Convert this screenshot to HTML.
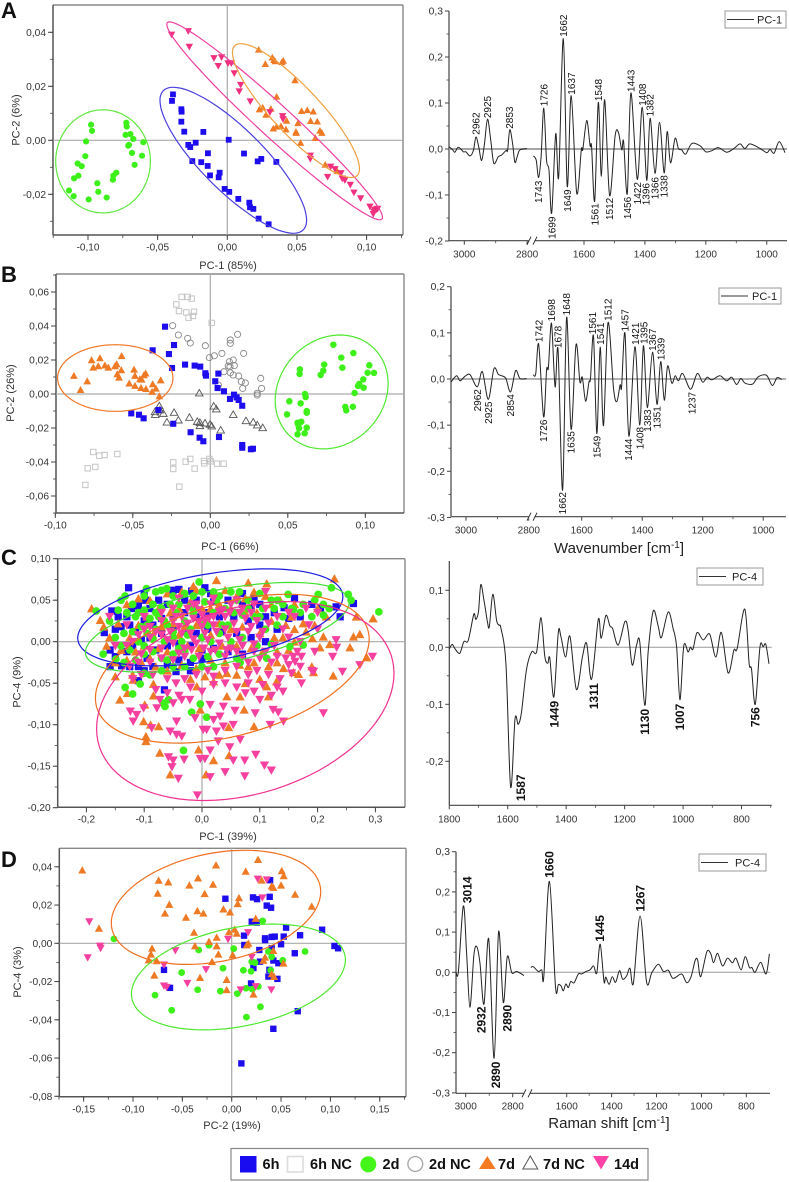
<!DOCTYPE html>
<html lang="en">
<head>
<meta charset="utf-8">
<title>PCA scores and loadings</title>
<style>
html,body{margin:0;padding:0;background:#fff;}
#fig{display:block;width:789px;height:1182px;font-family:"Liberation Sans",sans-serif;}
text{font-family:"Liberation Sans",sans-serif;}
</style>
</head>
<body>
<svg id="fig" xmlns="http://www.w3.org/2000/svg" width="789" height="1182" viewBox="0 0 789 1182">
  <rect x="0" y="0" width="789" height="1182" fill="#fff"/>
  <g id="layer"></g>

  <g font-weight="bold" font-size="22" fill="#111">
    <text x="1" y="18">A</text>
    <text x="1" y="282">B</text>
    <text x="1" y="565">C</text>
    <text x="1" y="867">D</text>
  </g>
  <g font-size="11" fill="#333" text-anchor="middle">
    <text x="228" y="269">PC-1 (85%)</text>
    <text x="230" y="550">PC-1 (66%)</text>
    <text x="228" y="840">PC-1 (39%)</text>
    <text x="232" y="1129">PC-2 (19%)</text>
    <text transform="translate(19.5 120) rotate(-90)">PC-2 (6%)</text>
    <text transform="translate(14 393) rotate(-90)">PC-2 (26%)</text>
    <text transform="translate(20.5 682) rotate(-90)">PC-4 (9%)</text>
    <text transform="translate(21 972) rotate(-90)">PC-4 (3%)</text>
  </g>
  <text x="619" y="553" font-size="15" fill="#222" text-anchor="middle">Wavenumber [cm<tspan font-size="10" dy="-5">-1</tspan><tspan dy="5">]</tspan></text>
  <text x="609" y="1128" font-size="15" fill="#222" text-anchor="middle">Raman shift [cm<tspan font-size="10" dy="-5">-1</tspan><tspan dy="5">]</tspan></text>

  <g>
    <rect x="231" y="1148.5" width="417" height="31.5" fill="#fff" stroke="#888" stroke-width="1.2"/>
    <rect x="240" y="1156" width="16.5" height="16.5" fill="#1a0cf0"/>
    <text x="262.5" y="1169" font-size="14.5" font-weight="bold" fill="#111">6h</text>
    <rect x="287.5" y="1156.5" width="15.5" height="15.5" fill="#fff" stroke="#ddd" stroke-width="1.6"/>
    <text x="310" y="1169" font-size="14.5" font-weight="bold" fill="#111">6h NC</text>
    <circle cx="368.3" cy="1164.3" r="8" fill="#44f51a"/>
    <text x="382.5" y="1169" font-size="14.5" font-weight="bold" fill="#111">2d</text>
    <circle cx="415.3" cy="1164" r="7.4" fill="#fff" stroke="#aaa" stroke-width="1.4"/>
    <text x="429" y="1169" font-size="14.5" font-weight="bold" fill="#111">2d NC</text>
    <path d="M479 1169L487.3 1156L495.6 1169Z" fill="#f57a22"/>
    <text x="498" y="1169" font-size="14.5" font-weight="bold" fill="#111">7d</text>
    <path d="M522.8 1169L530.3 1156L537.8 1169Z" fill="#fff" stroke="#555" stroke-width="1"/>
    <text x="543" y="1169" font-size="14.5" font-weight="bold" fill="#111">7d NC</text>
    <path d="M593 1156L609 1156L601 1169.5Z" fill="#ff42a8"/>
    <text x="614" y="1169" font-size="14.5" font-weight="bold" fill="#111">14d</text>
  </g>
</svg>

<script>
/* ---------- PANEL A scores (PC-1, PC-2) ---------- */
const aXTicks=[-0.10,-0.05,0,0.05,0.10];
const aYTicks=[-0.02,0,0.02,0.04];
const aGreen=[[-.0978,.0058],[-.0971,.0035],[-.1014,-.0004],[-.1019,-.0059],[-.1074,-.0086],[-.1045,-.0096],[-.1069,-.0131],[-.11,-.0141],[-.1136,-.0186],[-.1103,-.0207],[-.0995,-.0219],[-.0926,-.0191],[-.0933,-.0159],[-.0866,-.0212],[-.0821,-.0146],[-.0818,-.0131],[-.0797,-.012],[-.0725,.0065],[-.0722,.0051],[-.073,.002],[-.0696,.0023],[-.0675,.0005],[-.0706,-.0017],[-.0711,-.002],[-.0603,-.0007],[-.0684,-.0047],[-.0612,-.0057],[-.0665,-.0091]];
const aBlue=[[-.039,.017],[-.0397,.0146],[-.033,.0115],[-.0328,.0106],[-.033,.0069],[-.0309,.0032],[-.0172,.0031],[-.0227,-.0009],[-.028,-.0017],[-.0266,-.0025],[.001,.0002],[.012,-.0049],[-.0139,-.0048],[-.0251,-.0077],[-.0187,-.0081],[-.0141,-.0095],[-.0124,-.013],[-.0055,-.012],[-.0062,-.0137],[.0244,-.0069],[.0218,-.0078],[.0352,-.008],[-.0019,-.018],[.0014,-.0191],[.0079,-.0217],[.0158,-.0231],[.0163,-.0248],[.0187,-.0254],[.0225,-.029],[.0297,-.0311]];
const aOrange=[[.0225,.0336],[.0273,.0283],[.0323,.0307],[.0335,.0298],[.0344,.0293],[.0392,.029],[.0402,.0295],[.0486,.0223],[.0354,.0162],[.023,.0115],[.0254,.0122],[.0278,.0095],[.0313,.0117],[.0533,.0109],[.0574,.0112],[.0617,.0107],[.0426,.0073],[.0598,.0072],[.0646,.007],[.0385,.0053],[.0354,.0051],[.033,.0044],[.0421,.0041],[.0507,.0064],[.0493,.0032],[.0495,.0028],[.0526,-.0009],[.0632,.0009],[.0665,.0036],[.0679,.0028],[.0703,-.009],[.0789,-.0114]];
const aMagenta=[[-.04,.0391],[-.028,.0404],[-.0273,.0346],[-.0096,.0304],[-.0041,.0307],[-.0065,.0275],[.0005,.0285],[.0029,.0285],[.005,.0248],[.0096,.0205],[.0086,.0181],[.0165,.0144],[.0306,.0104],[.0397,.0089],[.04,.0078],[.0596,-.0057],[.0596,-.0069],[.072,-.0136],[.0742,-.0098],[.0773,-.0107],[.0816,-.0122],[.0825,-.0142],[.0844,-.0148],[.0883,-.0165],[.0909,-.0194],[.0957,-.0215],[.1024,-.0246],[.1072,-.0256],[.106,-.0258],[.1048,-.0273],[.1053,-.0264],[.1079,-.0254]];

/* ---------- PANEL B scores (PC-1, PC-2) ---------- */
const bXTicks=[-0.10,-0.05,0,0.05,0.10];
const bYTicks=[-0.06,-0.04,-0.02,0,0.02,0.04,0.06];
const bSquareNC=[[-.0185,.0571],[-.0146,.0571],[-.012,.0561],[-.0219,.0527],[-.0202,.0488],[-.0155,.048],[-.0105,.0484],[-.014,.0449],[-.0112,.0459],[.0009,.0418],[-.0755,-.0341],[-.0716,-.0363],[-.0682,-.0359],[-.06,-.0353],[-.0791,-.0437],[-.0742,-.0429],[-.0806,-.0535],[-.0239,-.0402],[-.0239,-.0441],[-.0159,-.0398],[-.0129,-.0382],[-.0101,-.0439],[-.0041,-.0394],[-.0039,-.0408],[-.0006,-.0382],[.0002,-.0396],[.0043,-.041],[.0086,-.041],[-.02,-.0545]];
const bCircleNC=[[-.0243,.0402],[-.0206,.0347],[-.0146,.0327],[-.0129,.03],[-.0032,.0284],[-.0006,.0214],[.0026,.0225],[.0075,.0239],[.0129,.0318],[.0129,.0298],[.0176,.0351],[.0215,.0239],[.0123,.019],[.0148,.02],[.0127,.0161],[.0155,.0167],[.0116,.0165],[.0088,.0131],[.0129,.0125],[.0148,.0112],[.0183,.0106],[.02,.0073],[.0226,.0065],[.0209,.0033],[.0325,.0092],[.0331,.0033],[.0303,.0004],[.0303,-.0006],[.0052,.0053]];
const bTriangleNC=[[-.0071,.0006],[.0022,-.0071],[.0039,-.0088],[.0148,-.012],[-.0329,-.0069],[-.0357,-.0104],[-.0355,-.012],[-.0325,-.0094],[-.0303,-.0114],[-.0234,-.0108],[-.028,-.0165],[-.0206,-.0153],[-.0135,-.0137],[-.0084,-.0161],[-.0067,-.0167],[-.0067,-.0186],[-.0034,-.0171],[-.0002,-.0178],[.0009,-.0188],[.0067,-.0212],[.023,-.0157],[.0277,-.0165],[.0303,-.0182],[.0338,-.0198]];
const bBlue=[[-.0292,.0396],[-.0234,.0288],[-.0267,.0235],[-.0372,.0257],[-.0247,.0153],[-.0163,.0173],[-.0101,.0167],[-.0065,.0161],[-.0032,.0122],[-.0028,.0108],[.0052,.012],[.0032,.0075],[.0047,.0035],[.0088,.0016],[.0153,-.0004],[.0127,-.0029],[.017,-.002],[.0183,-.0035],[.0206,-.0069],[-.051,-.0114],[-.046,-.0122],[-.043,-.0143],[-.0335,-.0094],[-.0239,-.0175],[-.0127,-.0225],[-.0069,-.0257],[-.0045,-.0278],[.0056,-.0253],[.0206,-.03],[.0206,-.0316],[.0262,-.0325],[.0275,-.0322]];
const bOrange=[[-.088,.0108],[-.0794,.0076],[-.0837,.0025],[-.0766,.02],[-.0712,.0212],[-.0755,.0157],[-.0723,.0165],[-.068,.0169],[-.0658,.0157],[-.0615,.0165],[-.0604,.0176],[-.0572,.0224],[-.06,.0118],[-.0574,.0141],[-.0589,.0098],[-.0492,.0145],[-.0486,.0108],[-.0417,.0122],[-.0428,.0112],[-.0443,.0086],[-.0454,.0088],[-.0523,.0063],[-.0486,.0049],[-.0447,.0037],[-.0415,.0031],[-.0372,.0059],[-.0351,.0033],[-.032,.0082],[-.0376,.0014],[-.0329,-.0012]];
const bGreen=[[.0794,.029],[.0923,.0241],[.0845,.0214],[.0852,.0155],[.0735,.0173],[.0729,.0137],[.0712,.0112],[.0578,.0145],[.0576,.0118],[.1026,.0169],[.1015,.0125],[.1056,.0124],[.0987,.0086],[.0961,.0059],[.0953,.0047],[.0989,.0037],[.0931,.0006],[.0611,0],[.0615,-.0018],[.051,-.0043],[.0583,-.0055],[.0622,-.01],[.0622,-.011],[.0495,-.012],[.0871,-.0076],[.0877,-.0096],[.092,-.0075],[.0587,-.0163],[.0563,-.0169],[.0568,-.0182],[.0572,-.0202],[.0622,-.0198],[.0563,-.0237],[.0609,-.0231]];

/* ---------- PANEL C scores (PC-1, PC-4) ---------- */
const cXTicks=[-0.2,-0.1,0,0.1,0.2,0.3];
const cYTicks=[-0.20,-0.15,-0.10,-0.05,0,0.05,0.10];
const cBlue=[[-.127,.065],[.005,.065],[-.018,.061],[.262,.046],[.232,.042],[.239,.03],[.142,.041],[-.159,-.03],[-.156,.037],[-.169,.011],[-.159,-.01],[-.065,-.058],[-.11,-.047],[-.139,-.029],[-.1,.058],[-.098,.05],[-.05,.062],[-.04,.063],[.015,.058],[.07,.058],[.09,.052],[.1,.045],[.16,.052],[.19,.045],[.205,.04],[.15,.028],[.17,.03],[.125,.035],[-.145,.03],[-.13,.03],[-.122,.04],[-.11,.043],[-.09,.04],[-.075,.05],[-.06,.045],[-.03,.05],[-.01,.05],[.02,.048],[.045,.05],[.07,.045],[.085,.04],[.11,.03],[-.15,.015],[-.14,.018],[-.125,.02],[-.115,.012],[-.1,.025],[-.085,.02],[-.07,.028],[-.05,.03],[-.03,.035],[-.01,.03],[.01,.035],[.03,.03],[.055,.03],[.08,.025],[.1,.02],[.13,.015],[-.15,-.018],[-.13,-.012],[-.12,-.005],[-.105,.002],[-.09,.005],[-.07,.01],[-.05,.015],[-.03,.012],[-.01,.01],[.01,.015],[.035,.012],[.06,.01],[.085,.005],[.11,0],[-.125,-.03],[-.11,-.03],[-.095,-.02],[-.08,-.01],[-.06,-.005],[-.04,-.002],[-.02,-.005],[0,-.01],[.02,-.008],[.045,-.012],[.07,-.015],[-.1,-.035],[-.085,-.03],[-.06,-.028],[-.04,-.022],[-.02,-.025],[0,-.02],[-.02,-.035],[-.045,-.036]];
const cOrange=[[.229,.076],[.112,.07],[.08,.071],[.025,.074],[-.015,.067],[-.191,.04],[-.176,.026],[.296,.028],[.267,.03],[.273,.009],[.262,.006],[.256,-.007],[.227,-.041],[.285,-.019],[.21,.006],[.221,-.003],[.204,-.007],[.191,.004],[.19,-.03],[.193,-.037],[.167,-.039],[.158,-.037],[.141,-.032],[-.142,-.07],[-.15,-.042],[-.129,-.062],[-.099,-.076],[-.084,-.051],[-.119,-.046],[-.084,-.065],[-.101,-.096],[-.089,-.1],[-.075,-.102],[-.097,-.114],[-.097,-.12],[-.073,-.134],[-.055,-.16],[-.006,-.13],[.007,-.16],[.02,-.143],[.047,-.137],[.09,-.102],[.046,-.103],[.073,-.082],[-.003,-.082],[.043,-.066],[-.009,-.054],[.066,-.066],[.115,-.066],[.112,-.054],[.129,-.048],[.08,-.03],[.06,-.04],[.043,-.038],[.02,-.048],[-.17,.018],[-.16,.005],[-.165,-.005],[-.145,.022],[-.13,.045],[-.11,.052],[-.09,.05],[-.06,.058],[-.035,.06],[-.01,.062],[.02,.058],[.04,.062],[.06,.055],[.09,.06],[.11,.055],[.135,.05],[.16,.045],[.2,.04],[.215,.03],[-.15,-.025],[-.14,-.01],[-.125,.005],[-.11,.02],[-.095,.03],[-.075,.04],[-.055,.035],[-.04,.04],[-.02,.048],[0,.04],[.015,.04],[.03,.045],[.05,.04],[.075,.035],[.095,.035],[.12,.025],[.145,.02],[.16,.015],[.18,.012],[-.13,-.022],[-.115,-.012],[-.1,-.005],[-.085,.008],[-.07,.018],[-.05,.022],[-.03,.018],[-.01,.02],[.01,.025],[.03,.022],[.05,.015],[.07,.018],[.1,.01],[.125,.005],[.14,.005],[.16,0],[-.12,-.04],[-.105,-.025],[-.09,-.02],[-.075,-.008],[-.06,-.012],[-.04,.008],[-.025,-.005],[-.005,-.008],[.015,.008],[.035,-.005],[.06,-.005],[.085,-.008],[.105,-.012],[.13,-.012],[.15,-.01],[-.08,-.03],[-.06,-.035],[-.035,-.028],[-.01,-.032],[.015,-.022],[.04,-.025],[.065,-.028],[.09,-.025],[.115,-.03],[.13,-.025],[-.02,-.045],[.005,-.042],[.03,-.04],[.1,-.045],[.075,-.05],[.155,.03],[.175,.022],[.195,.02],[.12,.045],[.075,.052]];
const cGreen=[[.306,.036],[.253,.057],[.258,.05],[.224,.065],[.201,.057],[.149,.057],[.158,.039],[.175,-.004],[.152,-.006],[.112,-.02],[.066,-.025],[-.133,-.055],[-.12,-.063],[-.107,-.051],[-.09,-.04],[-.067,-.074],[-.058,-.07],[-.064,-.078],[-.003,-.075],[-.018,-.085],[.008,-.091],[-.032,-.131],[-.171,-.015],[-.183,.037],[-.149,-.021],[-.005,.072],[-.061,.064],[-.096,.064],[-.133,.055],[-.14,.05],[-.12,.045],[-.1,.055],[-.08,.06],[-.07,.062],[-.05,.055],[-.03,.058],[-.015,.055],[0,.06],[.02,.06],[.05,.06],[.065,.06],[.1,.058],[.12,.05],[.17,.035],[.19,.03],[.21,.032],[.22,.04],[.14,.045],[-.16,.025],[-.145,.038],[-.13,.035],[-.115,.03],[-.1,.038],[-.085,.045],[-.07,.04],[-.055,.045],[-.04,.045],[-.02,.042],[.005,.048],[.025,.05],[.04,.04],[.06,.05],[.08,.05],[.105,.04],[.125,.04],[.14,.03],[-.15,.005],[-.135,.01],[-.12,.012],[-.105,.018],[-.09,.028],[-.075,.03],[-.06,.02],[-.045,.035],[-.03,.025],[-.015,.035],[0,.025],[.02,.035],[.045,.02],[.07,.032],[.09,.03],[.11,.015],[.13,.02],[-.14,-.005],[-.125,-.01],[-.11,0],[-.095,.01],[-.08,.015],[-.065,0],[-.05,.005],[-.035,0],[-.02,.015],[0,.005],[.015,0],[.03,.01],[.05,0],[.07,.005],[.095,-.005],[.12,-.003],[-.135,-.025],[-.115,-.022],[-.1,-.015],[-.085,-.012],[-.07,-.02],[-.05,-.015],[-.03,-.012],[-.015,-.02],[.01,-.018],[.03,-.015],[.06,-.02],[-.1,-.038],[-.07,-.035],[-.05,-.03],[-.03,-.03],[0,-.03],[.02,-.03],[-.11,.035],[-.095,.02],[-.08,.035],[-.065,.025],[-.05,.012],[-.085,.003],[-.1,-.005],[-.06,-.022],[-.04,-.008],[-.025,.008],[-.01,.04],[.01,.02],[.03,.055],[.035,.02],[.055,.035],[.08,.04],[.1,.03],[.155,.04],[.175,.045],[.195,.05],[.21,.045],[.13,.05]];
const cMagenta=[[-.008,-.185],[-.041,-.165],[.014,-.163],[.074,-.162],[.12,-.155],[.108,-.149],[.04,-.157],[.093,-.136],[.074,-.143],[.054,-.143],[-.052,-.151],[-.05,-.143],[-.058,-.139],[-.031,-.142],[-.003,-.141],[.005,-.141],[.014,-.131],[.048,-.127],[.028,-.12],[.066,-.118],[-.035,-.114],[-.044,-.112],[-.055,-.108],[.002,-.106],[.008,-.106],[.025,-.108],[.037,-.102],[.054,-.1],[.118,-.1],[.141,-.096],[.21,-.086],[.132,-.085],[.123,-.082],[.092,-.086],[.057,-.083],[.037,-.078],[.014,-.076],[.031,-.09],[.02,-.094],[-.012,-.092],[-.044,-.096],[-.119,-.096],[-.113,-.088],[-.124,-.084],[-.101,-.08],[-.078,-.08],[-.087,-.104],[-.073,-.07],[-.05,-.074],[-.035,-.07],[-.021,-.07],[.295,-.018],[.273,-.028],[.243,-.036],[.232,.002],[.233,-.007],[.226,-.018],[.195,-.012],[.172,-.018],[.158,-.018],[.161,-.024],[.172,-.05],[.193,-.036],[.11,.06],[.06,.05],[.02,.052],[-.01,.045],[-.04,.052],[-.07,.035],[-.1,.03],[-.13,.02],[-.16,.03],[-.15,-.005],[-.05,.04],[-.025,.04],[-.005,.038],[.015,.045],[.035,.038],[.05,.045],[.07,.04],[.09,.045],[.11,.04],[.13,.03],[.15,.035],[.18,.04],[.2,.035],[-.09,.018],[-.07,.025],[-.05,.025],[-.035,.03],[-.015,.028],[0,.032],[.02,.03],[.04,.03],[.055,.022],[.075,.028],[.095,.025],[.115,.022],[.14,.015],[.17,0],[-.11,.008],[-.09,.005],[-.07,.008],[-.055,.012],[-.04,.018],[-.02,.01],[0,.018],[.02,.02],[.04,.015],[.06,.012],[.08,.012],[.1,.005],[.125,-.005],[-.13,-.005],[-.105,-.015],[-.09,-.01],[-.07,-.008],[-.05,-.002],[-.03,-.008],[-.01,-.002],[.01,.002],[.03,-.002],[.05,-.008],[.07,-.005],[.09,-.003],[.11,-.012],[.13,-.018],[.145,-.02],[-.125,-.03],[-.11,-.025],[-.09,-.025],[-.07,-.02],[-.05,-.022],[-.03,-.018],[-.005,-.018],[.015,-.012],[.04,-.018],[.06,-.012],[.08,-.025],[.1,-.02],[.12,-.025],[.15,-.028],[.17,-.03],[-.12,-.045],[-.105,-.04],[-.085,-.04],[-.06,-.045],[-.045,-.05],[-.03,-.045],[-.01,-.04],[.01,-.035],[.02,-.042],[.04,-.035],[.06,-.03],[.08,-.04],[.095,-.035],[.115,-.04],[.135,-.045],[.155,-.038],[.19,-.035],[-.08,-.058],[-.06,-.062],[-.04,-.065],[-.02,-.055],[0,-.06],[.02,-.052],[.04,-.05],[.06,-.055],[.08,-.05],[.09,-.06],[.105,-.052],[.13,-.055],[.12,-.065],[.14,-.06],[.1,-.07],[.075,-.062],[-.035,.01],[-.015,.003],[.005,.01],[.025,.012],[.045,.005],[.065,.002],[.085,.018],[-.045,.03],[-.025,.022],[-.005,.024],[.012,.028],[.03,.036],[.048,.035],[.065,.035],[.085,.035],[.105,.012],[-.06,.002],[-.04,-.014],[-.018,-.01],[.003,-.008],[.023,-.01],[.043,-.01],[.07,-.018],[.09,-.012],[-.1,.015],[-.08,.012],[-.12,.0],[-.015,.045],[.005,.025],[.16,.03],[.165,-.012],[.185,.02],[.2,.015],[.15,.005]];

/* ---------- PANEL D scores (PC-2, PC-4) ---------- */
const dXTicks=[-0.15,-0.10,-0.05,0,0.05,0.10,0.15];
const dYTicks=[-0.08,-0.06,-0.04,-0.02,0,0.02,0.04];
const dBlue=[[-.0064,.0233],[.0216,.024],[.0257,.0231],[.0385,.0243],[.0355,.0197],[.0399,.0186],[.0389,.033],[.0203,.0113],[.0253,.0108],[.0551,.0082],[.0125,.004],[.0338,.0026],[.0338,.0017],[.0405,.0033],[.0436,.0035],[.0527,.0035],[.0693,.0042],[.0916,.0071],[.05,-.0005],[.0639,-.0052],[.1041,-.0014],[.1078,-.0026],[.028,-.0035],[.0405,-.0026],[.0128,-.0009],[.0287,-.0096],[.0422,-.009],[.0473,-.0104],[.022,-.0129],[.0382,-.0139],[.0372,-.0174],[.0463,-.0186],[-.0686,-.0139],[-.0625,-.0233],[.0196,-.021],[.0669,-.0355],[.0422,-.0447],[.0098,-.0628]];
const dGreen=[[-.1193,.0023],[-.0334,-.0035],[-.023,-.001],[.002,-.0028],[.0743,-.0043],[.0517,-.0089],[.0405,-.0071],[.0372,-.0043],[.0203,-.0096],[.0236,-.0101],[-.0088,-.013],[-.0507,-.0153],[.0118,-.0141],[.0196,-.0146],[.0395,-.0141],[-.0345,-.0243],[-.0115,-.025],[.0057,-.0263],[.0145,-.0235],[.0209,-.024],[.027,-.0226],[.0291,-.0332],[.0149,-.0386],[-.0777,-.0271],[-.0608,-.035],[.0314,.0117]];
const dOrange=[[-.1514,.0383],[-.1345,.0078],[-.074,.0329],[-.075,.0261],[-.0642,.032],[-.0429,.0304],[-.0341,.0341],[-.0159,.0409],[-.0189,.0308],[-.0274,.0259],[-.0632,.0203],[-.0676,.0157],[-.0348,.017],[-.0287,.0157],[-.0463,.0136],[-.0084,.0179],[-.0017,.0163],[.0074,.0238],[.0061,.0207],[.0142,.0376],[.0267,.0438],[.0304,.033],[.0405,.0299],[.0422,.0292],[.0507,.0379],[.0527,.0353],[.05,.0304],[.0642,.0256],[.0811,.0193],[.0243,.013],[-.0382,.0057],[-.023,.0009],[-.0152,.0031],[-.0152,-.0014],[-.0372,-.0014],[.003,.0073],[.0051,.0052],[-.0027,.0059],[.0169,0],[.0152,-.0009],[-.0807,-.0026],[-.0818,-.0057],[-.0841,-.0087],[-.076,-.0092],[-.0784,-.0167],[-.0321,-.0179],[-.0135,-.0057],[-.0199,-.0096],[.001,-.0061],[-.0051,-.019],[-.0051,-.0243],[.022,-.0266],[.0321,-.009],[.0338,-.0073],[.0422,-.0038],[.0524,-.0104],[.0405,-.016],[.0429,-.0174]];
const dMagenta=[[-.1443,.0113],[-.1334,-.0014],[-.1328,-.0026],[-.1459,-.0075],[-.0571,-.0038],[-.0686,-.0113],[-.0686,-.0223],[-.0659,-.023],[-.0449,-.0209],[-.026,-.0137],[-.0037,.0021],[.0166,.0056],[.0203,-.0073],[.0091,-.0243],[.0243,-.0226],[.0402,-.0243],[.0264,.0336],[.0355,.0332],[.0311,.0238]];

/* ---------- Loading spectra ---------- */
const aSpecLeftW=[3049,3038,3030,3019,3003,2995,2982,2971,2963,2954,2945,2936,2926,2916,2906,2892,2881,2867,2862,2855,2846,2839,2831,2823,2801];
const aSpecLeftV=[.005,-.001,-.007,.004,-.006,-.006,-.015,-.003,.026,.005,-.025,.01,.065,.02,-.031,-.017,-.013,-.003,-.003,.042,.01,-.029,-.015,-.002,.001];
const aSpecRightW=[1766,1757,1749,1741,1732,1723,1715,1706,1693,1683,1668,1655,1642,1624,1609,1604,1591,1580,1575,1565,1553,1543,1532,1516,1498,1487,1476,1470,1458,1446,1425,1409,1394,1383,1367,1352,1337,1327,1316,1301,1290,1279,1266,1246,1219,1200,1181,1159,1132,1110,1088,1072,1055,1022,1000,989,976,959,940];
const aSpecRightV=[-.015,-.024,-.062,-.017,.089,-.024,-.046,-.139,.033,-.06,.24,-.081,.116,-.096,-.002,-.001,.062,.007,.005,-.113,.101,-.059,.107,-.101,.028,.036,-.002,.016,-.097,.122,-.066,.091,-.068,.067,-.053,.058,-.052,.038,-.03,.023,.001,-.002,-.011,.012,.007,-.006,-.004,.003,-.007,0,.011,.001,.011,.001,-.008,-.001,-.009,.016,-.008];
const aPeakText=['2962','2925','2853','1726','1662','1637','1548','1443','1408','1382','1743','1699','1649','1561','1512','1456','1422','1396','1366','1338'];
const aPeakW=[2963,2926,2857,1732,1668,1642,1553,1446,1409,1383,1749,1706,1655,1565,1516,1458,1425,1396,1367,1338];
const aPeakV=[.031,.067,.044,.093,.244,.118,.104,.124,.094,.071,-.069,-.147,-.088,-.118,-.106,-.104,-.072,-.074,-.061,-.057];

const bSpecLeftW=[3048,3030,3019,3003,2987,2964,2948,2929,2911,2897,2886,2873,2858,2842,2828,2807];
const bSpecLeftV=[-.007,.007,-.004,.006,.009,-.017,.016,-.044,.022,.01,.007,.001,-.028,.018,.001,.001];
const bSpecRightW=[1760,1752,1742,1726,1716,1710,1700,1688,1678,1663,1650,1635,1619,1606,1598,1587,1576,1571,1561,1550,1539,1528,1513,1495,1484,1473,1468,1457,1444,1424,1408,1396,1383,1366,1351,1339,1327,1316,1302,1291,1280,1266,1240,1218,1200,1185,1170,1143,1121,1104,1088,1074,1060,1035,1016,989,970,954,939];
const bSpecRightV=[.009,.011,.075,-.082,.02,.025,.121,-.017,.062,-.241,.133,-.109,.074,-.006,.004,-.048,-.006,.001,.093,-.118,.069,-.101,.122,-.02,-.049,-.013,-.017,.099,-.124,.07,-.1,.072,-.062,.058,-.055,.038,-.046,.028,-.009,.007,-.004,.012,-.022,.012,-.007,.004,-.002,.007,-.004,.004,-.012,.001,-.009,-.011,.005,.008,-.014,.003,-.001];
const bPeakText=['2962','2925','2854','1726','1662','1635','1549','1444','1408','1383','1351','1237','1742','1698','1678','1648','1561','1541','1512','1457','1421','1395','1367','1339'];
const bPeakW=[2964,2929,2858,1726,1663,1635,1550,1446,1408,1383,1351,1236,1742,1700,1678,1650,1564,1539,1513,1457,1423,1395,1366,1339];
const bPeakV=[-.022,-.049,-.033,-.088,-.245,-.113,-.123,-.129,-.104,-.066,-.059,-.028,.08,.125,.067,.138,.097,.074,.126,.103,.074,.076,.061,.041];

const cSpecW=[1800,1790,1781,1764,1750,1735,1716,1709,1700,1692,1681,1670,1663,1651,1638,1630,1623,1606,1590,1575,1564,1553,1536,1518,1501,1486,1473,1463,1456,1442,1427,1418,1402,1387,1365,1344,1330,1313,1290,1280,1264,1250,1241,1222,1199,1188,1174,1159,1148,1131,1119,1102,1085,1074,1051,1034,1022,1011,1000,994,983,975,966,952,931,909,888,869,846,826,815,789,774,766,753,737,726,717,706];
const cSpecV=[-.003,.005,-.002,-.0105,.01,.012,.058,.049,.063,.11,.082,.047,.036,.093,.047,.039,.033,-.028,-.245,-.126,-.135,-.115,-.04,-.008,-.008,.052,-.016,-.028,-.019,-.087,.026,.019,-.017,.019,-.074,-.016,.007,-.056,.049,.016,.056,.037,.033,.004,.045,.03,-.031,.004,.009,-.102,-.005,.064,.037,.017,.062,.033,.001,-.092,-.01,.007,-.008,0,-.003,.026,.013,.023,-.017,.026,-.045,-.005,-.002,.067,-.028,-.038,-.1,.001,.001,.005,-.029];
const cPeakText=['1587','1449','1311','1130','1007','756'];
const cPeakW=[1556,1441,1306,1131,1011,753];
const cPeakV=[-.223,-.094,-.063,-.108,-.099,-.105];

const dSpecLeftW=[3041,3031,3010,2996,2982,2965,2953,2939,2922,2902,2879,2860,2840,2823,2804,2783,2752];
const dSpecLeftV=[0,.002,.165,.047,-.087,.043,.064,.022,-.079,.083,-.214,.101,-.075,.039,-.001,.002,-.008];
const dSpecRightW=[1760,1749,1726,1711,1702,1677,1650,1637,1625,1615,1604,1593,1582,1567,1548,1533,1514,1496,1480,1466,1451,1434,1426,1411,1397,1382,1365,1351,1333,1318,1303,1273,1244,1221,1192,1169,1147,1127,1095,1083,1065,1046,1028,1017,1003,976,958,946,928,906,884,862,846,823,805,786,775,761,736,712,697];
const dSpecRightV=[.012,.014,.002,.006,-.011,.226,-.036,-.03,-.034,-.046,-.029,-.038,-.023,-.026,-.004,-.004,.002,.006,.016,-.002,.07,-.023,-.012,-.03,-.011,-.025,.004,-.017,-.009,.01,-.027,.14,-.025,-.001,.02,.002,.005,-.015,-.005,-.007,-.026,-.011,.029,.031,-.011,.051,.046,.024,.047,.016,.035,.024,.035,.006,.039,.012,.012,0,.025,-.004,.046];
const dPeakText=['3014','2932','2890','2890','1660','1445','1267'];
const dPeakW=[2993,2935,2872,2823,1677,1453,1273];
const dPeakV=[.172,-.085,-.222,-.081,.235,.076,.151];

const specXTicksBroken=[3000,2800,1600,1400,1200,1000];
const specXMinorBroken=[2900,1500,1300,1100];
const specXTicksD=[3000,2800,1600,1400,1200,1000,800];
const specXMinorD=[2900,1500,1300,1100,900];
const specXTicksC=[1800,1600,1400,1200,1000,800];
const specXMinorC=[1700,1500,1300,1100,900,700];
const aSpecYTicks=[-0.2,-0.1,0,0.1,0.2,0.3];
const bSpecYTicks=[-0.3,-0.2,-0.1,0,0.1,0.2];
const cSpecYTicks=[-0.2,-0.1,0,0.1];
const dSpecYTicks=[-0.3,-0.2,-0.1,0,0.1,0.2,0.3];

/* ---------- style constants ---------- */
const BLUE='#1c0cee',GREEN='#3ef01a',ORANGE='#ee7a26',MAGENTA='#f5409f';
const NS='http://www.w3.org/2000/svg';
const layer=document.getElementById('layer');

function linear(d0,r0,d1,r1){return function(v){return r0+(v-d0)*(r1-r0)/(d1-d0);};}

function addLine(x1,y1,x2,y2,stroke,w){
  const el=document.createElementNS(NS,'line');
  
  
  el.setAttribute('x1',x1);el.setAttribute('y1',y1);el.setAttribute('x2',x2);el.setAttribute('y2',y2);
  el.setAttribute('stroke',stroke);el.setAttribute('stroke-width',w);
  layer.appendChild(el);
}
function addTick(x1,y1,x2,y2,w){
  const el=document.createElementNS(NS,'line');
  
  
  el.setAttribute('x1',x1);el.setAttribute('y1',y1);el.setAttribute('x2',x2);el.setAttribute('y2',y2);
  el.setAttribute('stroke','#444');el.setAttribute('stroke-width',w);
  layer.appendChild(el);
}
function addTickLabel(x,y,str,anchor,size){
  const el=document.createElementNS(NS,'text');
  
  
  el.setAttribute('x',x);el.setAttribute('y',y);
  el.setAttribute('text-anchor',anchor);el.setAttribute('font-size',size);el.setAttribute('fill','#333');
  el.textContent=str;
  layer.appendChild(el);
}
function addMarker(shape,color,px,py,k){
  let el;
  const hw=3.7*k,top=3.6*k,base=3.1*k;
  if(shape==='square'){
    const h=2.9*k;
    el=document.createElementNS(NS,'rect');
    el.setAttribute('x',px-h);el.setAttribute('y',py-h);el.setAttribute('width',2*h);el.setAttribute('height',2*h);
    el.setAttribute('fill',color);
  }else if(shape==='circle'){
    el=document.createElementNS(NS,'circle');
    el.setAttribute('cx',px);el.setAttribute('cy',py);el.setAttribute('r',3.1*k);
    el.setAttribute('fill',color);
  }else if(shape==='up'){
    el=document.createElementNS(NS,'path');
    el.setAttribute('d','M'+(px-hw)+' '+(py+base)+'L'+px+' '+(py-top)+'L'+(px+hw)+' '+(py+base)+'Z');
    el.setAttribute('fill',color);
  }else if(shape==='down'){
    el=document.createElementNS(NS,'path');
    el.setAttribute('d','M'+(px-hw)+' '+(py-base)+'L'+px+' '+(py+top)+'L'+(px+hw)+' '+(py-base)+'Z');
    el.setAttribute('fill',color);
  }else if(shape==='openSquare'){
    el=document.createElementNS(NS,'rect');
    el.setAttribute('x',px-2.7);el.setAttribute('y',py-2.7);el.setAttribute('width',5.4);el.setAttribute('height',5.4);
    el.setAttribute('fill','none');el.setAttribute('stroke',color);el.setAttribute('stroke-width',1);
  }else if(shape==='openCircle'){
    el=document.createElementNS(NS,'circle');
    el.setAttribute('cx',px);el.setAttribute('cy',py);el.setAttribute('r',3.1);
    el.setAttribute('fill','none');el.setAttribute('stroke',color);el.setAttribute('stroke-width',.9);
  }else{
    el=document.createElementNS(NS,'path');
    el.setAttribute('d','M'+(px-3.8)+' '+(py+3)+'L'+px+' '+(py-3.5)+'L'+(px+3.8)+' '+(py+3)+'Z');
    el.setAttribute('fill','none');el.setAttribute('stroke',color);el.setAttribute('stroke-width',.9);
  }
  
  
  layer.appendChild(el);
}
function addEllipse(e,xf,yf){
  let d='';
  for(let i=0;i<=96;i++){
    const t=i/96*2*Math.PI;
    const dx=e[0]+e[2]*Math.cos(t)+e[4]*Math.sin(t);
    const dy=e[1]+e[3]*Math.cos(t)+e[5]*Math.sin(t);
    d+=(i?'L':'M')+xf(dx).toFixed(1)+' '+yf(dy).toFixed(1);
  }
  const el=document.createElementNS(NS,'path');
  
  
  el.setAttribute('d',d+'Z');el.setAttribute('fill','none');
  el.setAttribute('stroke',e[6]);el.setAttribute('stroke-width',1.2);
  layer.appendChild(el);
}

function drawScatter(p){
  const xf=linear(0,p.x0,p.xRef,p.x1),yf=linear(0,p.y0,p.yRef,p.y1);
  const f=p.frame;
  addLine(f.l,f.t,f.r,f.t,'#888',1.4);
  addLine(f.r,f.t,f.r,f.b,'#888',1.4);
  addLine(f.l,f.t,f.l,f.b,'#555',1.5);
  addLine(f.l,f.b,f.r,f.b,'#555',1.5);
  addLine(f.l,yf(0),f.r,yf(0),'#aaa',1.2);
  addLine(xf(0),f.t,xf(0),f.b,'#aaa',1.2);
  p.xTicks.forEach(function(v){
    addTick(xf(v),f.b,xf(v),f.b+5,1);
    addTickLabel(xf(v),p.xLabelY+3.5,v.toFixed(p.xDigits).replace('.',','),'middle',10);
  });
  for(let v=p.xMinorStart;v<=f.xMax;v+=p.xMinorStep){addTick(xf(v),f.b,xf(v),f.b+3,.8);}
  p.yTicks.forEach(function(v){
    addTick(f.l,yf(v),f.l-5,yf(v),1);
    addTickLabel(f.l-7,yf(v)+3.5,v.toFixed(2).replace('.',','),'end',10.2);
  });
  for(let v=p.yMinorStart;v<=f.yMax;v+=p.yMinorStep){addTick(f.l,yf(v),f.l-3,yf(v),.8);}
  p.series.forEach(function(s){
    s.data.forEach(function(pt){addMarker(s.shape,s.color,xf(pt[0]),yf(pt[1]),p.markerScale);});
  });
  p.ellipses.forEach(function(e){addEllipse(e,xf,yf);});
}

function smoothPath(ws,vs,xf,yf){
  const px=ws.map(xf),py=vs.map(yf);
  let d='M'+px[0].toFixed(1)+' '+py[0].toFixed(1);
  for(let i=0;i<px.length-1;i++){
    const a=Math.max(i-1,0),b=Math.min(i+2,px.length-1),k=.16;
    const c1x=px[i]+(px[i+1]-px[a])*k,c1y=py[i]+(py[i+1]-py[a])*k;
    const c2x=px[i+1]-(px[b]-px[i])*k,c2y=py[i+1]-(py[b]-py[i])*k;
    d+='C'+c1x.toFixed(1)+' '+c1y.toFixed(1)+' '+c2x.toFixed(1)+' '+c2y.toFixed(1)+' '+px[i+1].toFixed(1)+' '+py[i+1].toFixed(1);
  }
  return d;
}
function addSpectrumLine(ws,vs,xf,yf){
  const el=document.createElementNS(NS,'path');
  
  
  el.setAttribute('d',smoothPath(ws,vs,xf,yf));
  el.setAttribute('fill','none');el.setAttribute('stroke','#222');el.setAttribute('stroke-width',1);
  layer.appendChild(el);
}
function addPeakLabel(str,px,py,up,size,bold){
  const el=document.createElementNS(NS,'text');
  
  
  el.setAttribute('transform','translate('+(px+size*.36)+' '+py+') rotate(-90)');
  el.setAttribute('text-anchor',up?'start':'end');
  el.setAttribute('font-size',size);
  if(bold){el.setAttribute('font-weight','bold');}
  el.setAttribute('fill','#111');
  el.textContent=str;
  layer.appendChild(el);
}
function addBreakMark(x,y){
  const gap=document.createElementNS(NS,'rect');
  
  
  gap.setAttribute('x',x-1.5);gap.setAttribute('y',y-2);gap.setAttribute('width',6);gap.setAttribute('height',4);gap.setAttribute('fill','#fff');
  layer.appendChild(gap);
  [0,6].forEach(function(o){
    const sl=document.createElementNS(NS,'line');
    
    
    sl.setAttribute('x1',x-3+o);sl.setAttribute('y1',y+4);sl.setAttribute('x2',x+1+o);sl.setAttribute('y2',y-4);
    sl.setAttribute('stroke','#222');sl.setAttribute('stroke-width',.9);
    layer.appendChild(sl);
  });
}
function addSpecLegend(l,label){
  const box=document.createElementNS(NS,'rect');
  
  
  box.setAttribute('x',l.x);box.setAttribute('y',l.y);box.setAttribute('width',l.w);box.setAttribute('height',l.h);
  box.setAttribute('fill','#fff');box.setAttribute('stroke','#999');box.setAttribute('stroke-width',1);
  layer.appendChild(box);
  const ln=document.createElementNS(NS,'line');
  
  
  ln.setAttribute('x1',l.x+2);ln.setAttribute('x2',l.x+29);ln.setAttribute('y1',l.y+l.h/2);ln.setAttribute('y2',l.y+l.h/2);
  ln.setAttribute('stroke','#333');ln.setAttribute('stroke-width',1);
  layer.appendChild(ln);
  const tx=document.createElementNS(NS,'text');
  
  
  tx.setAttribute('x',l.x+l.tx);tx.setAttribute('y',l.y+l.h/2+4);tx.setAttribute('font-size',11);tx.setAttribute('fill','#222');
  tx.textContent=label;
  layer.appendChild(tx);
}

function drawSpectrum(s){
  const yf=linear(0,s.y0,s.yRef,s.y1);
  const xf=function(w){return w>=2000?s.lx3000+(3000-w)*s.lScale:s.rx1600+(1600-w)*s.rScale;};
  addLine(s.l,s.t,s.l,s.b,'#444',1.2);
  addLine(s.l,s.b,s.r,s.b,'#444',1.2);
  addLine(s.l,yf(0),s.r,yf(0),'#999',s.zeroW);
  s.yTicks.forEach(function(v){
    addTick(s.l,yf(v),s.l-4,yf(v),1);
    addTickLabel(s.l-6,yf(v)+3.5,v.toFixed(1).replace('.',','),'end',10.3);
  });
  s.yTicks.slice(0,-1).forEach(function(v){addTick(s.l,yf(v+.05),s.l-2.5,yf(v+.05),.8);});
  s.xTicks.forEach(function(w){
    addTick(xf(w),s.b,xf(w),s.b+4,1);
    addTickLabel(xf(w),s.xLabelY+3.5,String(w),'middle',10);
  });
  s.xMinor.forEach(function(w){addTick(xf(w),s.b,xf(w),s.b+2.5,.8);});
  if(s.breakX){addBreakMark(s.breakX,s.b);}
  s.lines.forEach(function(ln){addSpectrumLine(ln[0],ln[1],xf,yf);});
  s.peakText.forEach(function(t,i){
    addPeakLabel(t,xf(s.peakW[i]),yf(s.peakV[i]),s.peakV[i]>0,s.labelSize,s.labelBold);
  });
  addSpecLegend(s.legend,s.legendText);
}

/* ---------- panels ---------- */
drawScatter({x0:227.3,xRef:.1,x1:366.6,y0:140.3,yRef:.04,y1:32.3,markerScale:1,
  frame:{l:53,t:5,r:403,b:235,xMax:.128,yMax:.049},
  xTicks:aXTicks,yTicks:aYTicks,xDigits:2,xLabelY:247,
  xMinorStart:-.125,xMinorStep:.025,yMinorStart:-.03,yMinorStep:.01,
  series:[{data:aGreen,shape:'circle',color:GREEN},{data:aBlue,shape:'square',color:BLUE},{data:aOrange,shape:'up',color:ORANGE},{data:aMagenta,shape:'down',color:'#f0307f'}],
  ellipses:[
    [-.0892,-.0078,.034,0,0,.0191,'#5fe83f'],
    [.0043,-.0074,.0502,-.0258,.0158,.0081,'#4a3fe0'],
    [.034,.0072,.077,-.0364,.0084,.0043,'#ee3fa0'],
    [.0493,.011,.044,-.024,.012,.0062,'#f0a040']
  ]});
drawScatter({x0:210.3,xRef:.1,x1:365.3,y0:394,yRef:.06,y1:292,markerScale:1.05,
  frame:{l:56,t:274,r:404,b:513,xMax:.122,yMax:.07},
  xTicks:bXTicks,yTicks:bYTicks,xDigits:2,xLabelY:525,
  xMinorStart:-.1,xMinorStep:.025,yMinorStart:-.07,yMinorStep:.01,
  series:[{data:bSquareNC,shape:'openSquare',color:'#c4c4c4'},{data:bCircleNC,shape:'openCircle',color:'#888'},{data:bTriangleNC,shape:'openUp',color:'#555'},{data:bBlue,shape:'square',color:BLUE},{data:bOrange,shape:'up',color:ORANGE},{data:bGreen,shape:'circle',color:GREEN}],
  ellipses:[
    [-.0613,.0094,.0372,0,0,.0196,'#f07828'],
    [.0783,.0012,.036,0,.0054,.0335,'#50e830']
  ]});
drawScatter({x0:202,xRef:.1,x1:259.8,y0:641.7,yRef:.1,y1:558.7,markerScale:1.25,
  frame:{l:57.7,t:558.7,r:405,b:807.3,xMax:.34,yMax:.1},
  xTicks:cXTicks,yTicks:cYTicks,xDigits:1,xLabelY:819,
  xMinorStart:-.2,xMinorStep:.05,yMinorStart:-.2,yMinorStep:.025,
  series:[{data:cBlue,shape:'square',color:BLUE},{data:cOrange,shape:'up',color:ORANGE},{data:cGreen,shape:'circle',color:GREEN},{data:cMagenta,shape:'down',color:MAGENTA}],
  ellipses:[
    [.0144,.0293,.2294,.0249,0,.0529,'#1a1ae0'],
    [.0265,.0173,.2282,.0301,0,.045,'#40e030'],
    [.0524,-.0325,.2369,.0356,0,.0823,'#f07020'],
    [.0749,-.0715,.2573,.0333,0,.1151,'#f0308f']
  ]});
drawScatter({x0:231.7,xRef:.1,x1:330.4,y0:943.3,yRef:.04,y1:866.8,markerScale:1.1,
  frame:{l:59.3,t:848.3,r:406,b:1096.7,xMax:.176,yMax:.05},
  xTicks:dXTicks,yTicks:dYTicks,xDigits:2,xLabelY:1109,
  xMinorStart:-.175,xMinorStep:.025,yMinorStart:-.08,yMinorStep:.01,
  series:[{data:dBlue,shape:'square',color:BLUE},{data:dGreen,shape:'circle',color:GREEN},{data:dOrange,shape:'up',color:ORANGE},{data:dMagenta,shape:'down',color:MAGENTA}],
  ellipses:[
    [-.0159,.0188,.1061,.0082,0,.0287,'#f07020'],
    [.0068,-.0176,.1084,.0089,0,.0262,'#50e830']
  ]});

drawSpectrum({l:449,t:11,r:787,b:240.7,y0:149,yRef:.3,y1:11,lx3000:464.3,lScale:.314,rx1600:584,rScale:.3046,
  yTicks:aSpecYTicks,xTicks:specXTicksBroken,xMinor:specXMinorBroken,xLabelY:254,breakX:530,zeroW:1.7,
  lines:[[aSpecLeftW,aSpecLeftV],[aSpecRightW,aSpecRightV]],
  peakText:aPeakText,peakW:aPeakW,peakV:aPeakV,labelSize:10,labelBold:false,
  legend:{x:725,y:11,w:61,h:17,tx:32},legendText:'PC-1'});
drawSpectrum({l:451,t:286.7,r:786,b:516.7,y0:379,yRef:.2,y1:286.7,lx3000:466,lScale:.314,rx1600:581.7,rScale:.3025,
  yTicks:bSpecYTicks,xTicks:specXTicksBroken,xMinor:specXMinorBroken,xLabelY:530,breakX:530,zeroW:1.5,
  lines:[[bSpecLeftW,bSpecLeftV],[bSpecRightW,bSpecRightV]],
  peakText:bPeakText,peakW:bPeakW,peakV:bPeakV,labelSize:10,labelBold:false,
  legend:{x:719,y:288,w:62,h:16,tx:33},legendText:'PC-1'});
drawSpectrum({l:449.3,t:561,r:771.7,b:805.3,y0:647.3,yRef:.1,y1:590.3,lx3000:0,lScale:0,rx1600:507.7,rScale:.2923,
  yTicks:cSpecYTicks,xTicks:specXTicksC,xMinor:specXMinorC,xLabelY:819,breakX:0,zeroW:1,
  lines:[[cSpecW,cSpecV]],
  peakText:cPeakText,peakW:cPeakW,peakV:cPeakV,labelSize:12,labelBold:true,
  legend:{x:697,y:568,w:66,h:17,tx:35},legendText:'PC-4'});
drawSpectrum({l:456,t:851.7,r:770,b:1093.3,y0:972.3,yRef:.3,y1:851.7,lx3000:465.7,lScale:.235,rx1600:566.7,rScale:.2245,
  yTicks:dSpecYTicks,xTicks:specXTicksD,xMinor:specXMinorD,xLabelY:1106,breakX:525,zeroW:1,
  lines:[[dSpecLeftW,dSpecLeftV],[dSpecRightW,dSpecRightV]],
  peakText:dPeakText,peakW:dPeakW,peakV:dPeakV,labelSize:12,labelBold:true,
  legend:{x:699,y:854,w:67,h:17,tx:36},legendText:'PC-4'});
</script>
</body>
</html>
